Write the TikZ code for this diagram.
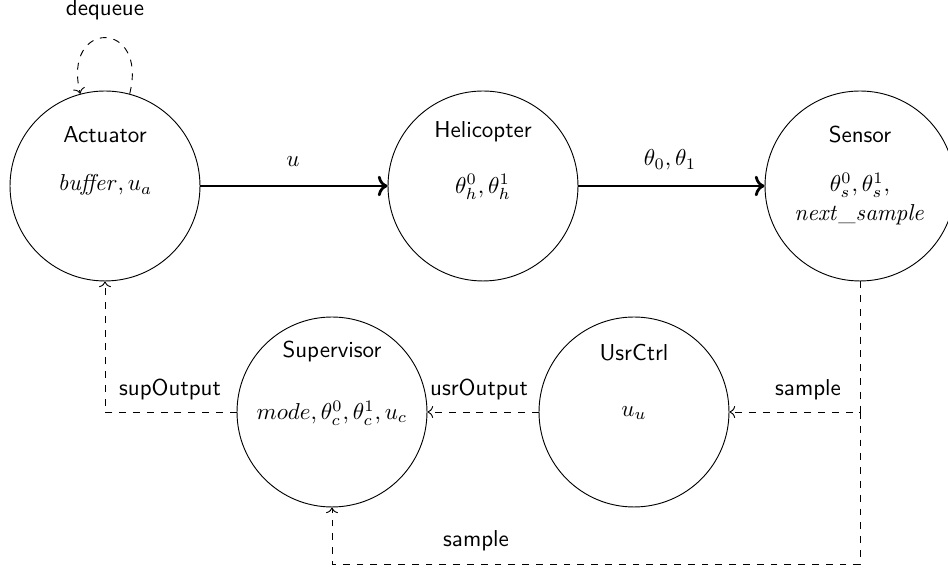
\documentclass[tikz,border=0pt]{standalone}
\usetikzlibrary{arrows.meta,calc}
\begin{document}
\begin{tikzpicture}[x=0.4348pt,y=0.4348pt,
  circ/.style={draw,circle,minimum size=82.6pt,inner sep=0pt},
  ttl/.style={font=\sffamily,inner sep=1pt},
  val/.style={inner sep=1pt},
  lbl/.style={font=\sffamily,inner sep=1pt},
  flow/.style={->,very thick},
  dflow/.style={->,dashed}]
\useasboundingbox (0,0) rectangle (948,571);

% processes
\node[circ] (act)  at (105,385) {};
\node[circ] (heli) at (483,385) {};
\node[circ] (sens) at (860,385) {};
\node[circ] (sup)  at (332,159) {};
\node[circ] (usr)  at (634,159) {};

% titles
\node[ttl] (actT)  at (105,436) {Actuator};
\node[ttl] (heliT) at (483,439) {Helicopter};
\node[ttl] (sensT) at (860,436) {Sensor};
\node[ttl] (supT)  at (332,219) {Supervisor};
\node[ttl] (usrT)  at (634,218) {UsrCtrl};

% state variables
\node[val] (actV)  at (105,386) {$\mathit{buffer}, u_a$};
\node[val] (heliV) at (483,384) {$\theta_h^0, \theta_h^1$};
\node[val,align=center] (sensV) at (860,372)
  {$\theta_s^0, \theta_s^1,$\\[0.5pt]$\mathit{next\_sample}$};
\node[val] (supV)  at (332,158) {$mode, \theta_c^0, \theta_c^1, u_c$};
\node[val] (usrV)  at (634,158) {$u_u$};

% data flow
\draw[flow] (act) -- (heli);
\draw[flow] (heli) -- (sens);
\node[lbl] (lu)  at (293,409) {$u$};
\node[lbl] (lth) at (670,411) {$\theta_0, \theta_1$};

% dequeue loop
\draw[dflow] (act.75) to[out=76,in=104,looseness=4] (act.105);
\node[lbl] (ldq) at (105,561) {dequeue};

% sampled outputs
\coordinate (junc) at (sens.south |- usr.east);
\coordinate (bot)  at (sens.south |- 0,7);
\coordinate (botl) at (sup.south |- bot);
\draw[dflow] (sens.south) -- (junc) -- (usr.east);
\draw[dflow] (junc) -- (bot) -- (botl) -- (sup.south);
\draw[dflow] (usr.west) -- (sup.east);
\draw[dflow] (sup.west) -| (act.south);

\node[lbl] (ls1) at (808,181) {sample};
\node[lbl] (ls2) at (476,30)  {sample};
\node[lbl] (luo) at (479,181) {usrOutput};
\node[lbl] (lso) at (170,181) {supOutput};
\end{tikzpicture}
\end{document}
